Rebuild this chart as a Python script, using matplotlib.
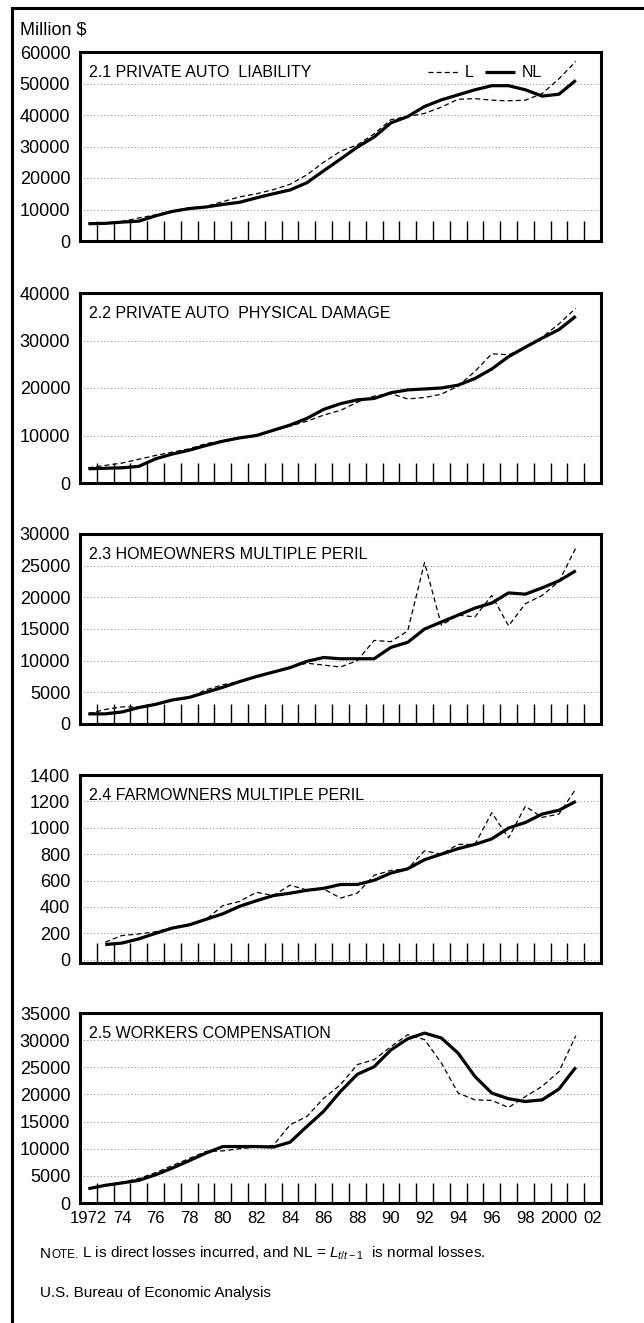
import matplotlib
matplotlib.use("Agg")
import matplotlib.pyplot as plt
from matplotlib.lines import Line2D

# years on the category axis
years = list(range(1972, 2002))
years_farm = list(range(1973, 2002))

# 2.1 private auto liability
auto_liab_L = [5500, 5800, 6200, 7300, 8300, 9500, 10500, 11000, 12500, 14000,
               15000, 16300, 18000, 21000, 25000, 28500, 30500, 34000, 38500, 39500,
               40500, 42500, 45000, 45200, 44700, 44500, 44700, 46800, 51500, 57000]
auto_liab_NL = [5500, 5600, 6000, 6300, 8000, 9400, 10300, 10800, 11600, 12300,
                13700, 15000, 16200, 18500, 22300, 26000, 29800, 33000, 37500, 39500,
                42700, 44800, 46400, 48000, 49300, 49300, 48000, 46000, 46600, 51000]

# 2.2 private auto physical damage
auto_phys_L = [3200, 3700, 4200, 5000, 5800, 6500, 7200, 8300, 8900, 9500,
               10000, 11000, 12000, 13000, 14300, 15300, 17000, 18300, 18800, 17700,
               18000, 18700, 20400, 23500, 27200, 27000, 28500, 30700, 33500, 36800]
auto_phys_NL = [3000, 3100, 3200, 3500, 5100, 6100, 6900, 7900, 8800, 9500,
                10000, 11100, 12200, 13600, 15500, 16700, 17500, 17800, 19000, 19600,
                19800, 20000, 20600, 22000, 24000, 26600, 28600, 30500, 32300, 35100]

# 2.3 homeowners multiple peril
home_L = [1600, 2300, 2700, 2700, 3200, 3800, 4200, 5400, 6200, 6700,
          7400, 8200, 9000, 9600, 9300, 9000, 10000, 13200, 13000, 14700,
          25500, 15600, 17200, 16900, 20300, 15500, 19000, 20300, 22500, 27800]
home_NL = [1600, 1600, 1900, 2600, 3100, 3800, 4200, 5000, 5800, 6700,
           7500, 8200, 8900, 9900, 10500, 10300, 10300, 10300, 12100, 12900,
           15000, 16100, 17200, 18300, 19100, 20700, 20500, 21500, 22600, 24200]

# 2.4 farmowners multiple peril (from 1973)
farm_L = [133, 183, 195, 212, 244, 269, 306, 410, 442, 511,
          486, 565, 528, 536, 467, 504, 640, 677, 689, 825,
          800, 874, 874, 1114, 923, 1163, 1079, 1104, 1294]
farm_NL = [115, 126, 158, 200, 240, 264, 306, 348, 405, 447,
           486, 504, 526, 541, 570, 570, 602, 657, 689, 758,
           800, 842, 874, 916, 998, 1040, 1104, 1133, 1200]

# 2.5 workers compensation
work_L = [2640, 3300, 3800, 4500, 5600, 6900, 8200, 9500, 9600, 10000,
          10300, 10600, 14400, 15950, 19300, 21800, 25500, 26400, 28800, 31000,
          30100, 25800, 20250, 19000, 18900, 17600, 19600, 21500, 24200, 30800]
work_NL = [2640, 3250, 3700, 4170, 5200, 6440, 7800, 9200, 10400, 10400,
           10400, 10300, 11200, 14100, 16900, 20550, 23700, 25100, 28200, 30250,
           31300, 30400, 27600, 23300, 20250, 19200, 18700, 19000, 21000, 25000]

titles = ["2.1 PRIVATE AUTO  LIABILITY", "2.2 PRIVATE AUTO  PHYSICAL DAMAGE",
          "2.3 HOMEOWNERS MULTIPLE PERIL", "2.4 FARMOWNERS MULTIPLE PERIL",
          "2.5 WORKERS COMPENSATION"]
y_tops = [60000, 40000, 30000, 1400, 35000]
y_steps = [10000, 10000, 5000, 200, 5000]
x_label_years = [1972, 1974, 1976, 1978, 1980, 1982, 1984, 1986, 1988, 1990,
                 1992, 1994, 1996, 1998, 2000, 2002]
x_labels = ["1972", "74", "76", "78", "80", "82", "84", "86", "88", "90",
            "92", "94", "96", "98", "2000", "02"]

plt.rcParams["font.family"] = "Liberation Sans"
plt.rcParams["font.size"] = 13
plt.rcParams["mathtext.fontset"] = "custom"
plt.rcParams["mathtext.rm"] = "Liberation Sans"
plt.rcParams["mathtext.it"] = "Liberation Sans:italic"
plt.rcParams["axes.linewidth"] = 2.2          # thick box
plt.rcParams["xtick.direction"] = "in"
plt.rcParams["xtick.major.size"] = 14.5
plt.rcParams["xtick.major.width"] = 1.0

W, H = 644, 1323
fig = plt.figure(figsize=(W / 100, H / 100), dpi=100)

# panel boxes in pixels: (top, bottom)
boxes = [(52, 241), (293, 483), (534, 724), (775, 963), (1013, 1203)]
box_left, box_right = 80, 601

series = [(years, auto_liab_L, auto_liab_NL),
          (years, auto_phys_L, auto_phys_NL),
          (years, home_L, home_NL),
          (years_farm, farm_L, farm_NL),
          (years, work_L, work_NL)]

axes = []
for i, (top, bot) in enumerate(boxes):
    ax = fig.add_axes([box_left / W, 1 - bot / H, (box_right - box_left) / W, (bot - top) / H])
    xs, L, NL = series[i]
    ax.plot(xs, L, color="black", lw=0.9, ls=(0, (4, 2.5)), label="L")
    ax.plot(xs, NL, color="black", lw=2.3, solid_capstyle="butt", label="NL")

    ax.set_xlim(1971.5, 2002.5)
    ymin = -25 if i == 3 else 0
    ax.set_ylim(ymin, y_tops[i])
    ax.set_yticks(range(0, y_tops[i] + 1, y_steps[i]))
    ax.yaxis.grid(True, color="#888888", lw=0.7, ls=(0, (1, 2.5)))
    ax.tick_params(axis="y", length=0, pad=7, labelsize=13)

    # tick marks between years
    ax.set_xticks([y + 0.5 for y in range(1972, 2002)])
    ax.tick_params(axis="x", which="major", labelbottom=False, top=False)
    ax.text(0.018, 0.89, titles[i], transform=ax.transAxes, ha="left", va="center",
            fontsize=11.5)
    axes.append(ax)

# x labels on the last panel only
ax5 = axes[-1]
ax5.set_xticks(x_label_years, minor=True)
ax5.set_xticklabels(x_labels, minor=True, fontsize=12)
ax5.tick_params(axis="x", which="minor", length=0, pad=6)

# legend of first panel
leg = axes[0].legend(ncol=2, loc="center right", bbox_to_anchor=(0.887, 0.89),
                     frameon=False, handlelength=1.9, handletextpad=0.4,
                     columnspacing=0.7, borderpad=0, borderaxespad=0,
                     prop={"size": 11.5})

fig.text(20 / W, 1 - 30 / H, "Million $", ha="left", va="center", fontsize=13)

# note with small caps "Note."
note_y = 1 - 1258 / H
t1 = fig.text(40 / W, note_y, "N", ha="left", va="baseline", fontsize=11)
fig.canvas.draw()
r = fig.canvas.get_renderer()
x2 = t1.get_window_extent(r).x1 / W
t2 = fig.text(x2, note_y, "OTE.", ha="left", va="baseline", fontsize=8.5)
fig.canvas.draw()
x3 = t2.get_window_extent(r).x1 / W
fig.text(x3, note_y, " L is direct losses incurred, and NL = $L_{t/t-1}$  is normal losses.",
         ha="left", va="baseline", fontsize=11)

fig.text(40 / W, 1 - 1297 / H, "U.S. Bureau of Economic Analysis", ha="left", va="baseline",
         fontsize=11)

# outer frame: left and top lines
fig.add_artist(Line2D([12.5 / W, 12.5 / W], [0, 1 - 8 / H], color="black", lw=2.2))
fig.add_artist(Line2D([11.5 / W, 1], [1 - 8 / H, 1 - 8 / H], color="black", lw=2.2))

fig.savefig("out.png", dpi=100)
